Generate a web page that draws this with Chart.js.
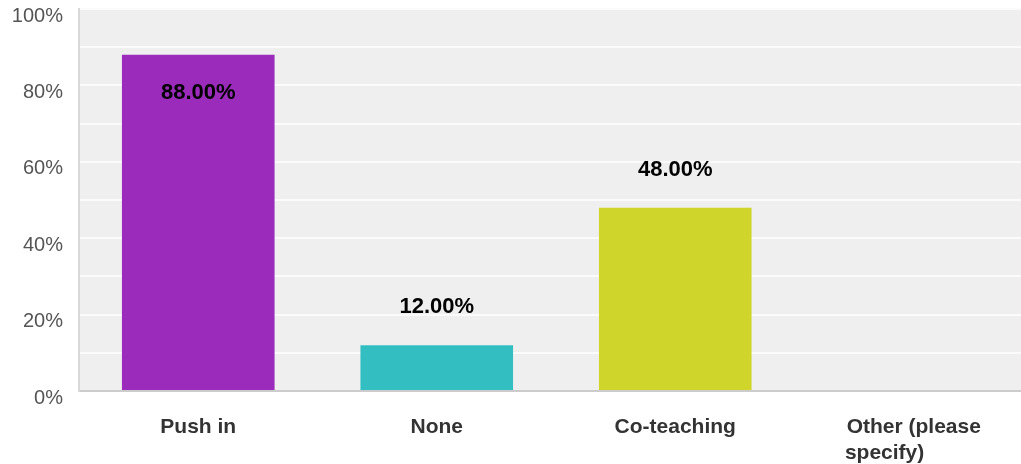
<!DOCTYPE html>
<html>
<head>
<meta charset="utf-8">
<script src="https://cdn.jsdelivr.net/npm/chart.js@4/dist/chart.umd.min.js"></script>
<style>
  html, body { margin: 0; padding: 0; background: #fff; overflow: hidden; }
  #wrap { width: 1021px; height: 464px; overflow: hidden; }
  #inner { width: 1033px; height: 464px; }
</style>
</head>
<body>
<div id="wrap"><div id="inner"><canvas id="myChart"></canvas></div></div>
<script>
    // values
    const categories = ["Push in", "None", "Co-teaching", ["Other (please", "specify)          "]];
    const values = [88, 12, 48, 0];
    const barColors = ["#9a2bbb", "#33bfc1", "#cfd52a", "#999999"];
    const tickLabels = ["0%", "20%", "40%", "60%", "80%", "100%"];

    // gray plot background
    const plotBg = {
        id: 'plotBg',
        beforeDraw(chart) {
            const a = chart.chartArea;
            const c = chart.ctx;
            c.save();
            c.fillStyle = '#efefef';
            c.fillRect(a.left, a.top, a.right - a.left, a.bottom - a.top);
            c.restore();
        }
    };

    // percent labels over the bars
    const valueLabels = {
        id: 'valueLabels',
        afterDatasetsDraw(chart) {
            const c = chart.ctx;
            const meta = chart.getDatasetMeta(0);
            c.save();
            c.font = 'bold 22px "Liberation Sans", Arial, sans-serif';
            c.fillStyle = '#000';
            c.textAlign = 'center';
            c.textBaseline = 'middle';
            meta.data.forEach(function(bar, i) {
                const v = values[i];
                if (!v) return;
                let y = bar.y - 38;
                if (y < chart.chartArea.top + 20) y = bar.y + 38;
                c.fillText(v.toFixed(2) + '%', bar.x, y);
            });
            c.restore();
        }
    };

    var ctx = document.getElementById('myChart').getContext('2d');
    var myChart = new Chart(ctx, {
        type: 'bar',
        data: {
            labels: categories,
            datasets: [{
                data: values,
                backgroundColor: barColors,
                barPercentage: 0.64,
                categoryPercentage: 1
            }]
        },
        options: {
            responsive: true,
            maintainAspectRatio: false,
            animation: false,
            layout: { padding: { top: 9, right: 0, left: 0, bottom: 0 } },
            plugins: {
                legend: { display: false },
                tooltip: { enabled: false }
            },
            scales: {
                x: {
                    afterFit(axis) {
                        axis.height = 73;
                        axis.paddingLeft = 0;
                        axis.paddingRight = 0;
                    },
                    grid: { display: false, drawTicks: false },
                    border: { display: true, color: '#cccccc', width: 2 },
                    ticks: {
                        color: '#333',
                        padding: 24,
                        maxRotation: 0,
                        autoSkip: false,
                        font: { family: '"Liberation Sans", Arial, sans-serif', size: 21, weight: 'bold', lineHeight: 1.2 }
                    }
                },
                y: {
                    min: 0,
                    max: 100,
                    afterBuildTicks(axis) {
                        axis.ticks = [];
                        for (let v = 0; v <= 100; v += 10) axis.ticks.push({ value: v });
                    },
                    afterFit(axis) {
                        axis.width = 79;
                        axis.paddingTop = 0;
                        axis.paddingBottom = 0;
                    },
                    grid: { color: '#fbfbfb', lineWidth: 2, drawTicks: false },
                    border: { display: true, color: '#d8d8d8', width: 2 },
                    ticks: {
                        color: '#555',
                        padding: 16,
                        labelOffset: 7,
                        font: { family: '"Liberation Sans", Arial, sans-serif', size: 20 },
                        callback: function(value) {
                            return value % 20 === 0 ? tickLabels[value / 20] : '';
                        }
                    }
                }
            }
        },
        plugins: [plotBg, valueLabels]
    });
</script>
</body>
</html>
